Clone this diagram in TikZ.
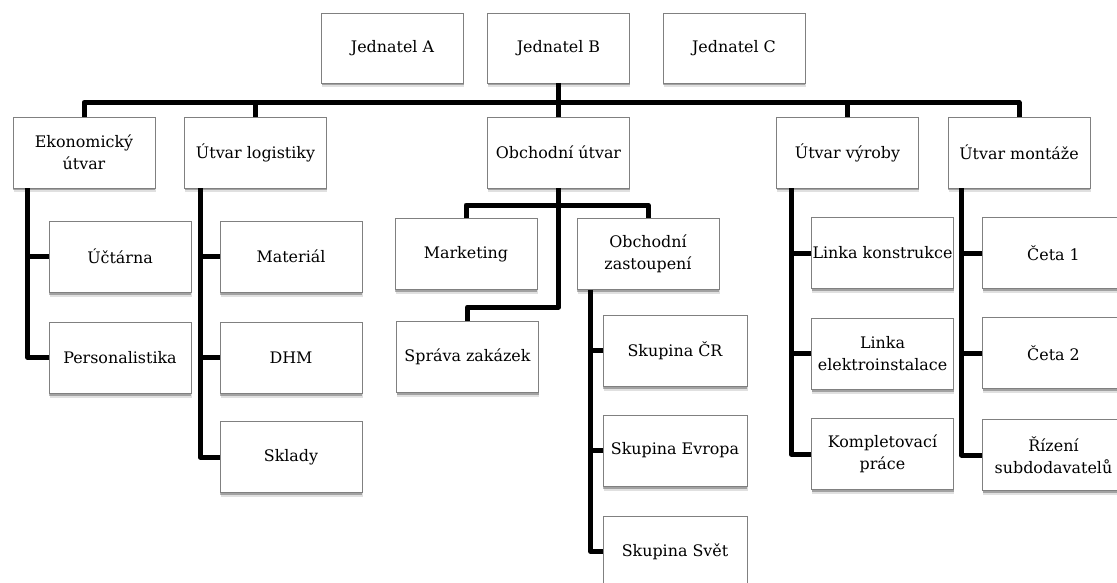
\documentclass[tikz,border=0pt]{standalone}
\usepackage{fontspec}
\setmainfont{DejaVu Serif}
\usetikzlibrary{shadows}
\begin{document}
\begin{tikzpicture}[x=1pt,y=-1pt,
  unit/.style={draw=black!50, line width=0.8pt, fill=white,
    minimum width=142pt, minimum height=71pt, inner sep=0.5pt,
    align=center, text=black,
    font=\fontsize{15.9}{22}\selectfont,
    drop shadow={shadow xshift=0.8pt, shadow yshift=-4.5pt, opacity=0.12, fill=black},
    drop shadow={shadow xshift=0.4pt, shadow yshift=-2.5pt, opacity=0.28, fill=black}},
  link/.style={line width=5pt, line join=round, line cap=butt}]
\useasboundingbox (0,0) rectangle (1117,583);
\clip (0,0) rectangle (1117,583);

% directors
\node[unit, minimum height=70pt] (jA) at (392.5,48) {Jednatel A};
\node[unit, minimum height=70pt] (jB) at (558.5,48) {Jednatel B};
\node[unit, minimum height=70pt] (jC) at (734,48) {Jednatel C};

% departments
\node[unit] (ekon)    at (84,152.5)    {Ekonomický\\útvar};
\node[unit] (logist)  at (255.5,152.5) {Útvar logistiky};
\node[unit] (obch)    at (558.5,152.5) {Obchodní útvar};
\node[unit] (vyroby)  at (847.5,152.5) {Útvar výroby};
\node[unit] (montaze) at (1019,152.5)  {Útvar montáže};

% economics
\node[unit] (uct)  at (120,256.5) {Účtárna};
\node[unit] (pers) at (120,357.5) {Personalistika};
% logistics
\node[unit] (mat)  at (291,256.5) {Materiál};
\node[unit] (dhm)  at (291,357.5) {DHM};
\node[unit] (skl)  at (291,457)   {Sklady};
% sales
\node[unit] (mkt)    at (466,254)   {Marketing};
\node[unit] (oz)     at (648,254)   {Obchodní\\zastoupení};
\node[unit] (sprava) at (467.5,357) {Správa zakázek};
\node[unit, minimum width=144pt] (skCR) at (675,350.5) {Skupina ČR};
\node[unit, minimum width=144pt] (skEU) at (675,450.5) {Skupina Evropa};
\node[unit, minimum width=144pt] (skSv) at (675,551.5) {Skupina Svět};
% production
\node[unit] (lk) at (882.5,253)   {Linka konstrukce};
\node[unit] (le) at (882.5,353.5) {Linka\\elektroinstalace};
\node[unit] (kp) at (882.5,454)   {Kompletovací\\práce};
% assembly
\node[unit] (c1) at (1053.5,253) {Četa 1};
\node[unit] (c2) at (1053.5,353) {Četa 2};
\node[unit] (rz) at (1053.5,455) {Řízení\\subdodavatelů};

% main bus
\coordinate (bus) at (0,102.5);
\draw[link] (ekon.north) -- (ekon.north |- bus) -- (montaze.north |- bus) -- (montaze.north);
\draw[link] (logist.north) -- (logist.north |- bus);
\draw[link] (vyroby.north) -- (vyroby.north |- bus);
\draw[link] (jB.south) -- (obch.north);

% economics branch
\coordinate (ekL) at ([xshift=15pt]ekon.south west);
\draw[link] (ekL) |- (pers.west);
\draw[link] (uct.west) -- (uct.west -| ekL);

% logistics branch
\coordinate (loL) at ([xshift=16pt]logist.south west);
\draw[link] (loL) |- (skl.west);
\draw[link] (mat.west) -- (mat.west -| loL);
\draw[link] (dhm.west) -- (dhm.west -| loL);

% sales branch
\coordinate (obBr) at (0,205);
\coordinate (obLow) at (0,307);
\draw[link] (obch.south) -- (obch.south |- obLow) -| (sprava.north);
\draw[link] (mkt.north) -- (mkt.north |- obBr) -- (oz.north |- obBr) -- (oz.north);

\coordinate (ozL) at ([xshift=14pt]oz.south west);
\draw[link] (ozL) |- (skSv.west);
\draw[link] (skCR.west) -- (skCR.west -| ozL);
\draw[link] (skEU.west) -- (skEU.west -| ozL);

% production branch
\coordinate (vyL) at ([xshift=15pt]vyroby.south west);
\draw[link] (vyL) |- (kp.west);
\draw[link] (lk.west) -- (lk.west -| vyL);
\draw[link] (le.west) -- (le.west -| vyL);

% assembly branch
\coordinate (moL) at ([xshift=14pt]montaze.south west);
\draw[link] (moL) |- (rz.west);
\draw[link] (c1.west) -- (c1.west -| moL);
\draw[link] (c2.west) -- (c2.west -| moL);
\end{tikzpicture}
\end{document}
